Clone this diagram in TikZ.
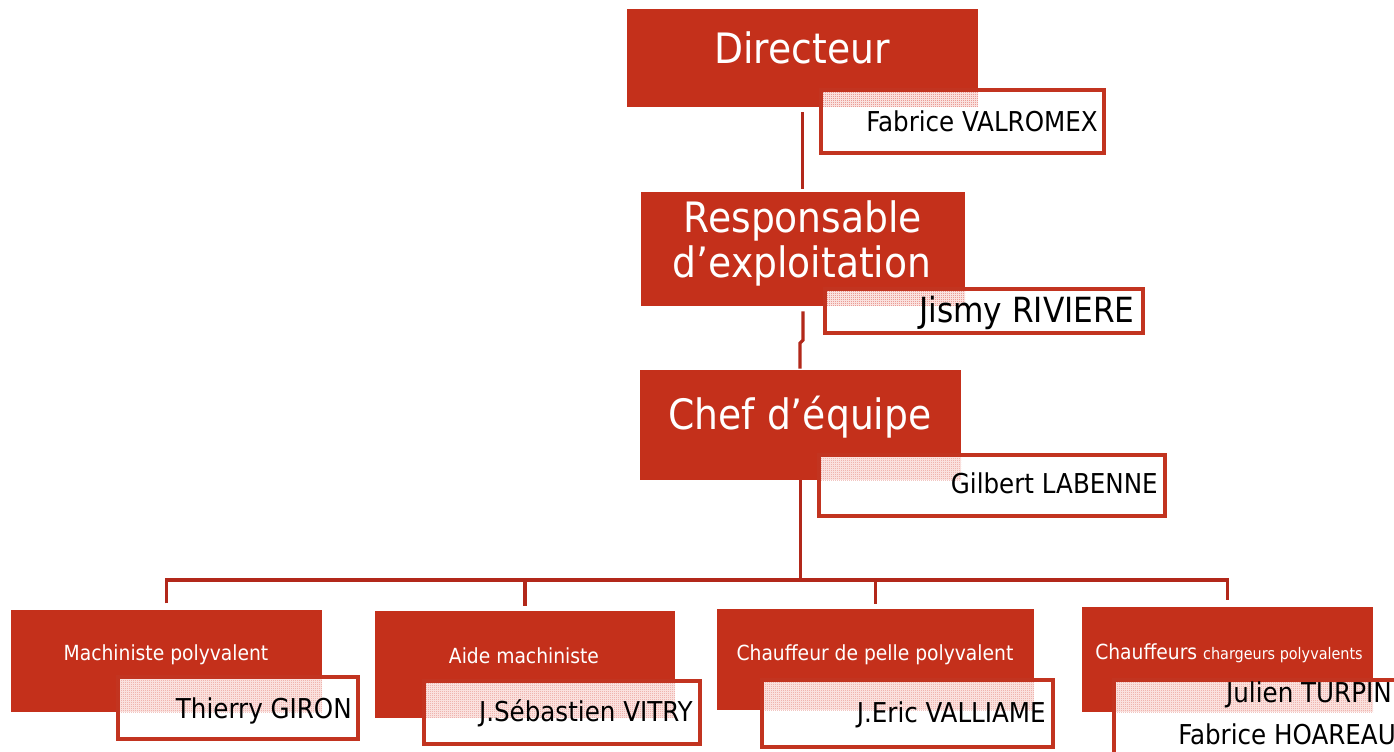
\documentclass[tikz,border=0pt]{standalone}
\usepackage{fontspec}
\setmainfont{DejaVu Sans Condensed}
\usetikzlibrary{patterns}
\pgfdeclarepatternformonly{finedots}{\pgfpointorigin}{\pgfqpoint{1.6pt}{1.6pt}}{\pgfqpoint{1.6pt}{1.6pt}}{%
  \pgfpathrectangle{\pgfpointorigin}{\pgfqpoint{0.75pt}{0.75pt}}\pgfusepath{fill}}
\definecolor{boxred}{RGB}{196,48,27}
\definecolor{edgered}{RGB}{194,52,32}
\definecolor{connred}{RGB}{178,40,26}
\definecolor{dotred}{RGB}{226,120,110}
\definecolor{pinkbg}{RGB}{250,225,222}
\begin{document}
\begin{tikzpicture}[x=0.75pt,y=-0.75pt,
  sz/.style 2 args={minimum width=#1*0.75pt, minimum height=#2*0.75pt},
  rolebox/.style={fill=boxred, draw=none, inner sep=0pt, outer sep=0pt, anchor=north west},
  namebox/.style={fill=white, draw=edgered, line width=3pt, inner sep=0pt, outer sep=0pt, anchor=north west},
  overlap/.style={fill=pinkbg, postaction={pattern=finedots, pattern color=dotred}},
  conn/.style={draw=connred, line width=2.4pt},
  bigtxt/.style={text=white, anchor=base, inner sep=0pt, font=\fontsize{31.4}{36}\selectfont},
  smalltxt/.style={text=white, anchor=base, inner sep=0pt, font=\fontsize{15.6}{18}\selectfont},
  nametxt/.style={text=black, anchor=base east, inner sep=0pt, font=\fontsize{20.5}{24}\selectfont}]
\useasboundingbox (0,0) rectangle (1394,751);
\clip (0,0) rectangle (1394,751);
\fill[white] (0,0) rectangle (1394,751);

\coordinate (bus) at (800,580);

% top level
\node[rolebox, sz={351}{98}] (dir) at (627,9) {};
\node[namebox, sz={283}{63}] (ndir) at (821,90) {};
\path[overlap] ([shift={(1.5pt,-1.5pt)}]ndir.north west) rectangle (dir.south east);
\node[bigtxt] (tdir) at (802,63) {Directeur};
\node[nametxt] (tndir) at (1098,131) {Fabrice VALROMEX};

\node[rolebox, sz={324}{114}] (resp) at (641,192) {};
\node[namebox, sz={318}{44}] (nresp) at (825,289) {};
\path[overlap] ([shift={(1.5pt,-1.5pt)}]nresp.north west) rectangle (resp.south east);
\node[bigtxt] (tresp1) at (803,232) {Responsable};
\node[bigtxt] (tresp2) at (802,277) {d’exploitation};
\node[nametxt, font=\fontsize{26}{30}\selectfont] (tnresp) at (1135,322) {Jismy RIVIERE};

\node[rolebox, sz={321}{110}] (chef) at (640,370) {};
\node[namebox, sz={346}{61}] (nchef) at (819,455) {};
\path[overlap] ([shift={(1.5pt,-1.5pt)}]nchef.north west) rectangle (chef.south east);
\node[bigtxt] (tchef) at (800,429) {Chef d’équipe};
\node[nametxt] (tnchef) at (1158,493) {Gilbert LABENNE};

% bottom row
\node[rolebox, sz={311}{102}] (m1) at (11,610) {};
\node[namebox, sz={240}{62}] (n1) at (118,677) {};
\path[overlap] ([shift={(1.5pt,-1.5pt)}]n1.north west) rectangle (m1.south east);
\node[smalltxt] (t1) at (166,660) {Machiniste polyvalent};
\node[nametxt] (tn1) at (352,718) {Thierry GIRON};

\node[rolebox, sz={300}{107}] (m2) at (375,611) {};
\node[namebox, sz={276}{63}] (n2) at (424,681) {};
\path[overlap] ([shift={(1.5pt,-1.5pt)}]n2.north west) rectangle (m2.south east);
\node[smalltxt] (t2) at (524,663) {Aide machiniste};
\node[nametxt] (tn2) at (693,721) {J.Sébastien VITRY};

\node[rolebox, sz={317}{101}] (m3) at (717,609) {};
\node[namebox, sz={291}{67}] (n3) at (762,680) {};
\path[overlap] ([shift={(1.5pt,-1.5pt)}]n3.north west) rectangle (m3.south east);
\node[smalltxt] (t3) at (875,660) {Chauffeur de pelle polyvalent};
\node[nametxt] (tn3) at (1046,722) {J.Eric VALLIAME};

\node[rolebox, sz={291}{105}] (m4) at (1082,607) {};
\node[namebox, sz={300}{90}] (n4) at (1114,680) {};
\path[overlap] ([shift={(1.5pt,-1.5pt)}]n4.north west) rectangle (m4.south east);
\node[smalltxt, anchor=base west] (t4) at (1095,659) {Chauffeurs {\fontsize{12}{14}\selectfont chargeurs polyvalents}};
\node[nametxt] (tn4a) at (1392,702) {Julien TURPIN};
\node[nametxt] (tn4b) at (1396,744) {Fabrice HOAREAU};

% connectors
\draw[conn] ([yshift=-4pt]dir.south) -- ([yshift=2pt]dir.south |- resp.north);
\draw[conn] ([yshift=-4pt]resp.south) -- (803,340) -- (800,343) -- ([yshift=1pt]800,370);
\draw[conn] (chef.south) -- (chef.south |- bus);
\draw[conn] ([yshift=5pt]m1.north) -- (m1.north |- bus) -- (m4.north |- bus) -- ([yshift=5pt]m4.north);
\draw[conn] (m2.north |- bus) -- ([yshift=4pt]m2.north);
\draw[conn] (m3.north |- bus) -- ([yshift=4pt]m3.north);
\end{tikzpicture}
\end{document}
